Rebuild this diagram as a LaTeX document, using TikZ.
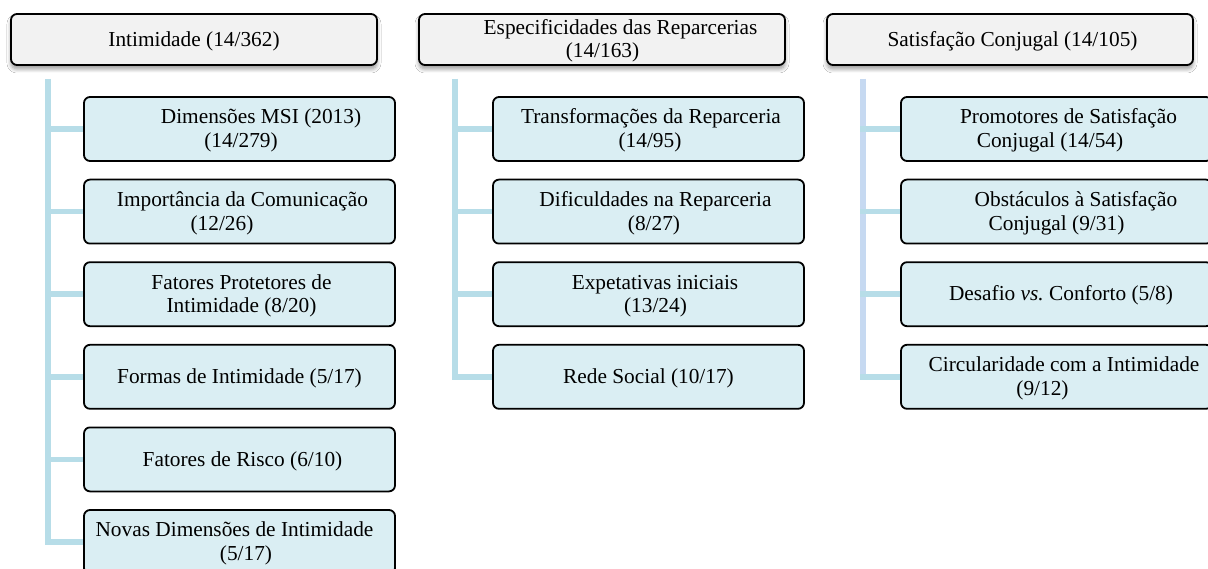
\documentclass[tikz,border=0pt]{standalone}
\usepackage{fontspec}
\setmainfont{Liberation Serif}
\usetikzlibrary{shadows.blur}
\definecolor{topfill}{HTML}{F2F2F2}
\definecolor{childfill}{HTML}{DAEEF3}
\definecolor{connc}{HTML}{B7DDE8}
\definecolor{conntrunk}{HTML}{C6D9F1}
\frenchspacing
\newcommand\tst{\rule[-2pt]{0pt}{20pt}}
\newcommand\sline[2]{\hspace*{#1pt}\tst#2}
\begin{document}
\begin{tikzpicture}[x=1pt,y=-1pt,
  boxbase/.style={draw=black, line width=1.8pt, rounded corners=6pt, inner sep=0pt, align=center,
    font=\fontsize{21.33}{23.5}\selectfont},
  topbox/.style={boxbase, fill=topfill, minimum width=366pt, minimum height=51pt,
    blur shadow={shadow xshift=0pt, shadow yshift=-4pt, shadow blur steps=8, shadow blur radius=4pt}},
  childbox/.style={boxbase, fill=childfill, minimum width=311pt, minimum height=64pt},
  branch/.style={draw=connc, line width=5.5pt},
  trunkline/.style={draw=connc, line width=5.5pt},
  trunkalt/.style={draw=conntrunk, line width=5.5pt}
]
\fill[white] (0,0) rectangle (1208,569);
\clip (0,0) rectangle (1208,569);

% top boxes
\node[topbox] (tA) at (194,39.5) {\sline{0}{Intimidade (14/362)}};
\node[topbox] (tB) at (602,39.5) {\sline{37}{Especificidades das Reparcerias}\\\sline{1}{(14/163)}};
\node[topbox] (tC) at (1010,39.5) {\sline{5}{Satisfação Conjugal (14/105)}};

% trunk coordinates
\coordinate (ka) at (48,79);
\coordinate (kb) at (455,79);
\coordinate (kc) at (863,79);

% child boxes (left)
\node[childbox] (a1) at (239.5,129) {\sline{43}{Dimensões MSI (2013)}\\\sline{3}{(14/279)}};
\node[childbox] (a2) at (239.5,211.6) {\sline{6}{Importância da Comunicação}\\\sline{-35}{(12/26)}};
\node[childbox] (a3) at (239.5,294.2) {\sline{4}{Fatores Protetores de}\\\sline{4}{Intimidade (8/20)}};
\node[childbox] (a4) at (239.5,376.8) {\sline{0}{Formas de Intimidade (5/17)}};
\node[childbox] (a5) at (239.5,459.4) {\sline{6}{Fatores de Risco (6/10)}};
\node[childbox] (a6) at (239.5,542) {\sline{-10}{Novas Dimensões de Intimidade}\\\sline{13}{(5/17)}};

% child boxes (middle)
\node[childbox] (b1) at (648.5,129) {\sline{5}{Transformações da Reparceria}\\\sline{3}{(14/95)}};
\node[childbox] (b2) at (648.5,211.6) {\sline{14}{Dificuldades na Reparceria}\\\sline{11}{(8/27)}};
\node[childbox] (b3) at (648.5,294.2) {\sline{13}{Expetativas iniciais}\\\sline{14}{(13/24)}};
\node[childbox] (b4) at (648.5,376.8) {\sline{0}{Rede Social (10/17)}};

% child boxes (right)
\node[childbox] (c1) at (1056.5,129) {\sline{24}{Promotores de Satisfação}\\\sline{-13}{Conjugal (14/54)}};
\node[childbox] (c2) at (1056.5,211.6) {\sline{39}{Obstáculos à Satisfação}\\\sline{0}{Conjugal (9/31)}};
\node[childbox] (c3) at (1056.5,294.2) {\sline{9}{Desafio \textit{vs.} Conforto (5/8)}};
\node[childbox] (c4) at (1056.5,376.8) {\sline{15}{Circularidade com a Intimidade}\\\sline{-28}{(9/12)}};

% connectors
\draw[trunkline] (ka) -- (ka |- a6.west);
\draw[trunkline] (kb) -- (kb |- b4.west);
\draw[trunkalt] (kc) -- (kc |- c4.west);
\foreach \n in {a1,a2,a3,a4,a5,a6}{\draw[branch] ([xshift=-2.75pt]ka |- \n.west) -- (\n.west);}
\foreach \n in {b1,b2,b3,b4}{\draw[branch] ([xshift=-2.75pt]kb |- \n.west) -- (\n.west);}
\foreach \n in {c1,c2,c3,c4}{\draw[branch] ([xshift=-2.75pt]kc |- \n.west) -- (\n.west);}
\end{tikzpicture}
\end{document}
